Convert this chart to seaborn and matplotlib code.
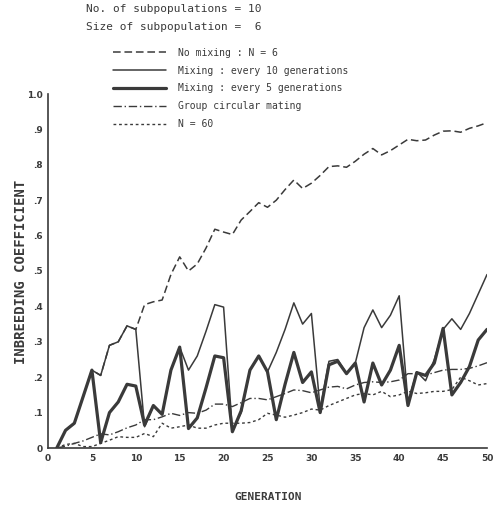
import matplotlib
matplotlib.use("Agg")
import matplotlib.pyplot as plt
import seaborn as sns
import numpy as np
import pandas as pd

# generations 1..50
generation = list(range(1, 51))

mix_every_10 = [0.0, 0.05, 0.07, 0.145, 0.22, 0.205, 0.29, 0.30, 0.345, 0.335,
                0.06, 0.12, 0.095, 0.22, 0.285, 0.22, 0.26, 0.33, 0.405, 0.398,
                0.05, 0.10, 0.22, 0.26, 0.215, 0.27, 0.335, 0.41, 0.35, 0.38,
                0.11, 0.245, 0.25, 0.21, 0.24, 0.34, 0.39, 0.34, 0.375, 0.43,
                0.13, 0.215, 0.19, 0.25, 0.335, 0.365, 0.335, 0.38, 0.435, 0.49]

mix_every_5 = [0.0, 0.05, 0.07, 0.145, 0.22, 0.015, 0.10, 0.13, 0.18, 0.175,
               0.065, 0.12, 0.095, 0.22, 0.285, 0.055, 0.085, 0.17, 0.26, 0.255,
               0.046, 0.105, 0.22, 0.26, 0.215, 0.08, 0.18, 0.27, 0.185, 0.215,
               0.10, 0.235, 0.245, 0.21, 0.24, 0.13, 0.24, 0.178, 0.22, 0.29,
               0.12, 0.213, 0.205, 0.24, 0.338, 0.15, 0.185, 0.23, 0.305, 0.335]

no_mixing = [0.0, 0.05, 0.07, 0.145, 0.22, 0.205, 0.29, 0.30, 0.345, 0.335,
             0.405, 0.413, 0.418, 0.49, 0.54, 0.50, 0.52, 0.565, 0.618, 0.61,
             0.603, 0.644, 0.668, 0.693, 0.68, 0.70, 0.73, 0.757, 0.733, 0.748,
             0.77, 0.795, 0.797, 0.793, 0.81, 0.83, 0.846, 0.828, 0.84, 0.856,
             0.872, 0.868, 0.87, 0.884, 0.895, 0.896, 0.892, 0.903, 0.91, 0.919]

circular = [0.0, 0.005, 0.013, 0.02, 0.03, 0.04, 0.037, 0.046, 0.057, 0.065,
            0.08, 0.08, 0.088, 0.098, 0.092, 0.10, 0.098, 0.107, 0.124, 0.124,
            0.117, 0.128, 0.14, 0.14, 0.136, 0.145, 0.154, 0.164, 0.162, 0.156,
            0.164, 0.172, 0.174, 0.167, 0.178, 0.185, 0.187, 0.185, 0.187, 0.192,
            0.21, 0.21, 0.206, 0.213, 0.22, 0.222, 0.222, 0.225, 0.232, 0.241]

n_60 = [0.0, 0.01, 0.013, 0.004, 0.004, 0.013, 0.022, 0.032, 0.03, 0.03,
        0.041, 0.032, 0.07, 0.056, 0.06, 0.065, 0.056, 0.056, 0.065, 0.07,
        0.07, 0.07, 0.072, 0.08, 0.098, 0.093, 0.087, 0.093, 0.10, 0.11,
        0.107, 0.12, 0.13, 0.14, 0.15, 0.154, 0.15, 0.16, 0.145, 0.15,
        0.16, 0.154, 0.156, 0.16, 0.16, 0.165, 0.20, 0.19, 0.178, 0.182]

labels = ["No mixing : N = 6",
          "Mixing : every 10 generations",
          "Mixing : every 5 generations",
          "Group circular mating",
          "N = 60"]

sns.set_style("white")
plt.rcParams['font.family'] = ['DejaVu Sans Mono', 'DejaVu Sans']

ink = "#3a3a3a"
fig = plt.figure(figsize=(5.0, 5.11), dpi=100)
ax = fig.add_axes([48/500, 1 - 448/511, (487 - 48)/500, (448 - 94)/511])

series = [no_mixing, mix_every_10, mix_every_5, circular, n_60]
styles = [dict(lw=1.1, linestyle=(0, (5, 2.5))),
          dict(lw=1.1, linestyle="-"),
          dict(lw=2.3, linestyle="-"),
          dict(lw=1.0, linestyle=(0, (6, 2, 1, 2))),
          dict(lw=1.0, linestyle=(0, (2, 2)))]

for vals, lab, st in zip(series, labels, styles):
    sns.lineplot(x=generation, y=vals, ax=ax, color=ink, label=lab, **st)

ax.set_xlim(0, 50)
ax.set_ylim(0, 1.0)
ax.set_xticks(range(0, 51, 5))
ax.set_xticklabels([str(v) for v in range(0, 51, 5)], family="DejaVu Sans",
                   fontsize=6.5, fontweight="bold", color=ink)
ax.set_yticks(np.arange(0, 1.01, 0.1))
ax.set_yticklabels(["0", ".1", ".2", ".3", ".4", ".5", ".6", ".7", ".8", ".9", "1.0"],
                   family="DejaVu Sans", fontsize=6.5, fontweight="bold", color=ink)
ax.tick_params(direction="in", length=4, width=1, color=ink, pad=4)
for s in ["top", "right"]:
    ax.spines[s].set_visible(False)
for s in ["left", "bottom"]:
    ax.spines[s].set_color(ink)
    ax.spines[s].set_linewidth(1.2)

ax.set_xlabel("GENERATION", fontsize=8, fontweight="bold", color=ink)
ax.xaxis.set_label_coords(0.501, -0.125)
ax.set_ylabel("INBREEDING COEFFICIENT", fontsize=10, fontweight="bold", color=ink)
ax.yaxis.set_label_coords(-0.045, 0.497)

handles, labs = ax.get_legend_handles_labels()
ax.get_legend().remove()
fig.legend(handles, labs, loc="upper left", bbox_to_anchor=(108/500, 1 - 43/511),
           frameon=False, fontsize=7, handlelength=5.5, handletextpad=1.2,
           labelspacing=0.8, borderpad=0, labelcolor=ink)

fig.text(86/500, 1 - 9/511, "No. of subpopulations = 10", fontsize=8, color=ink,
         va="center", ha="left")
fig.text(86/500, 1 - 27/511, "Size of subpopulation =  6", fontsize=8, color=ink,
         va="center", ha="left")

fig.savefig("out.png", dpi=100)
